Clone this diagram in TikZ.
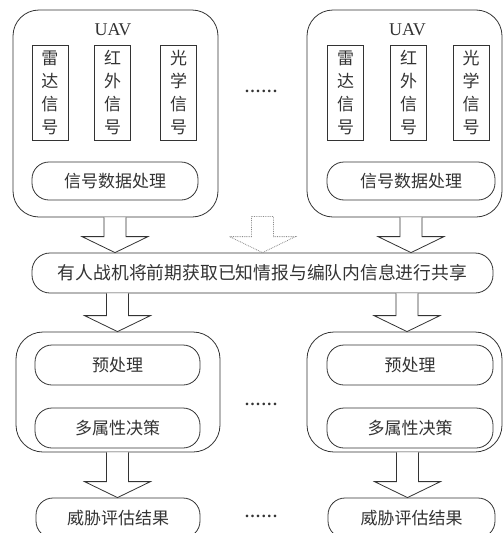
\documentclass[tikz,border=0pt]{standalone}
\usepackage{fontspec}
\setmainfont{Liberation Serif}
\newfontfamily\cjk{Noto Sans CJK SC}
\usetikzlibrary{calc}
\definecolor{linec}{HTML}{333333}
\definecolor{dotc}{HTML}{8A8A8A}
\newcommand\sixdots{.\kern1.6pt.\kern1.6pt.\kern1.6pt.\kern1.6pt.\kern1.6pt.}
\newcommand\blockarrow[3][]{%
  \draw[barrow,#1] ($(#2)+(-11,0)$) -- ($(#3)+(-11,-16)$) -- ($(#3)+(-33,-16)$) -- (#3)
    -- ($(#3)+(33,-16)$) -- ($(#3)+(11,-16)$) -- ($(#2)+(11,0)$);}
\begin{document}
\begin{tikzpicture}[x=1pt,y=-1pt,
  line/.style={draw=linec, line width=0.8pt},
  bigbox/.style={line, rounded corners=26pt, inner sep=0pt},
  vbox/.style={line, minimum width=36pt, minimum height=95pt, inner sep=0pt,
    align=center, text=linec, font=\cjk\fontsize{17}{23}\selectfont},
  capsule/.style={line, rounded corners=17pt, minimum height=38pt, inner sep=0pt,
    text=linec, font=\cjk\fontsize{17}{20}\selectfont},
  uavlabel/.style={inner sep=0pt, text=linec, font=\fontsize{18}{20}\selectfont},
  dots/.style={inner sep=0pt, text=linec, font=\bfseries\fontsize{16}{18}\selectfont},
  barrow/.style={line, fill=white},
  dotarrow/.style={draw=dotc, densely dotted, line width=0.8pt}]
\path[use as bounding box, clip] (0,0) rectangle (503,533);
% top UAV boxes
\node[bigbox, minimum width=205pt, minimum height=207pt] (uavL) at (115.5,113.5) {};
\node[bigbox, minimum width=195pt, minimum height=207pt] (uavR) at (404.5,113.5) {};
\node[uavlabel] (uavLt) at (113,30) {UAV};
\node[uavlabel] (uavRt) at (407.5,30) {UAV};
\node[vbox] (radL) at (50,92.5) {雷\\达\\信\\号};
\node[vbox] (irL) at (112.5,92.5) {红\\外\\信\\号};
\node[vbox] (optL) at (178.5,92.5) {光\\学\\信\\号};
\node[vbox] (radR) at (345.5,92.5) {雷\\达\\信\\号};
\node[vbox] (irR) at (408.5,92.5) {红\\外\\信\\号};
\node[vbox] (optR) at (471,92.5) {光\\学\\信\\号};
\node[capsule, minimum width=166pt] (capL) at (115,181) {信号数据处理};
\node[capsule, minimum width=168pt] (capR) at (411,181) {信号数据处理};
\node[dots] (dots1) at (261,91) {\sixdots};
% middle sharing node
\node[capsule, minimum width=461pt, minimum height=40pt, rounded corners=18pt,
  font=\cjk\fontsize{17.8}{21}\selectfont] (mid) at (262.5,273) {有人战机将前期获取已知情报与编队内信息进行共享};
% lower boxes
\node[bigbox, rounded corners=27pt, minimum width=204pt, minimum height=120pt] (lowL) at (118,392) {};
\node[bigbox, rounded corners=27pt, minimum width=195pt, minimum height=120pt] (lowR) at (404.5,392) {};
\node[capsule, minimum width=165pt, minimum height=40pt] (preL) at (117.5,365) {预处理};
\node[capsule, minimum width=165pt, minimum height=40pt] (decL) at (117.5,428) {多属性决策};
\node[capsule, minimum width=166pt, minimum height=40pt] (preR) at (410,365) {预处理};
\node[capsule, minimum width=166pt, minimum height=40pt] (decR) at (410,428) {多属性决策};
\node[dots] (dots2) at (261,404) {\sixdots};
% results
\node[capsule, minimum width=164pt, minimum height=40pt] (resL) at (118,518) {威胁评估结果};
\node[capsule, minimum width=167pt, minimum height=40pt] (resR) at (411.5,518) {威胁评估结果};
\node[dots] (dots3) at (261,516) {\sixdots};
% arrow anchors
\coordinate (a1s) at (uavL.south -| capL.south);
\coordinate (a1t) at (mid.north -| capL.south);
\coordinate (a2s) at (uavR.south -| capR.south);
\coordinate (a2t) at (mid.north -| capR.south);
\coordinate (a0s) at ($(uavL.south -| mid.north)+(0,-1)$);
\coordinate (a0t) at (mid.north);
\coordinate (a3s) at (mid.south -| preL.north);
\coordinate (a3t) at (lowL.north -| preL.north);
\coordinate (a4s) at ($(mid.south -| preR.north)+(-3,0)$);
\coordinate (a4t) at ($(lowR.north -| preR.north)+(-3,0)$);
\coordinate (a5s) at (lowL.south -| decL.south);
\coordinate (a5t) at (resL.north -| decL.south);
\coordinate (a6s) at ($(lowR.south -| decR.south)+(-2.5,0)$);
\coordinate (a6t) at ($(resR.north -| decR.south)+(-2.5,0)$);
\blockarrow{a1s}{a1t}
\blockarrow{a2s}{a2t}
\draw[dotarrow] ($(a0s)+(-11,0)$) -- ($(a0t)+(-11,-16)$) -- ($(a0t)+(-33,-16)$) -- (a0t)
    -- ($(a0t)+(33,-16)$) -- ($(a0t)+(11,-16)$) -- ($(a0s)+(11,0)$) -- cycle;
\blockarrow{a3s}{a3t}
\blockarrow{a4s}{a4t}
\blockarrow{a5s}{a5t}
\blockarrow{a6s}{a6t}
\end{tikzpicture}
\end{document}
